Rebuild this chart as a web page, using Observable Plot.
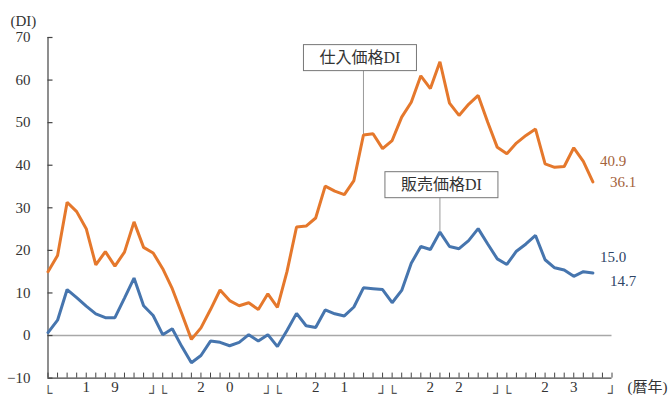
<!DOCTYPE html>
<html><head><meta charset="utf-8">
<script src="https://cdn.jsdelivr.net/npm/d3@7"></script>
<script src="https://cdn.jsdelivr.net/npm/@observablehq/plot@0.6"></script>
<style>body{margin:0;background:#fff} #chart svg{display:block}</style>
</head><body><div id="chart"></div>
<script>
// 仕入価格DI (monthly, 2019-01 .. 2023-10)
const purchase = [15.0,18.8,31.3,29.1,25.1,16.6,19.7,16.3,19.6,26.7,20.7,19.4,
  15.7,11.0,5.1,-0.9,1.8,6.1,10.7,8.2,7.0,7.7,6.1,9.8,
  6.6,15.0,25.5,25.7,27.6,35.1,33.9,33.1,36.4,47.1,47.4,43.9,
  45.8,51.3,54.8,61.0,58.0,64.3,54.6,51.7,54.3,56.4,50.1,44.2,
  42.7,45.2,47.0,48.5,40.3,39.5,39.7,44.1,40.9,36.1];
// 販売価格DI
const sales = [0.7,3.6,10.8,8.9,6.9,5.1,4.2,4.2,8.8,13.5,7.0,4.7,
  0.2,1.6,-2.6,-6.4,-4.7,-1.3,-1.6,-2.4,-1.6,0.2,-1.3,0.2,
  -2.6,1.2,5.2,2.3,1.9,6.0,5.1,4.6,6.7,11.2,11.0,10.8,
  7.7,10.6,17.0,20.9,20.2,24.3,20.9,20.4,22.3,25.1,21.5,18.0,
  16.7,19.8,21.5,23.5,17.8,15.9,15.4,13.9,15.0,14.7];
const seriesNames = ["仕入価格DI", "販売価格DI"];
const yTicks = [-10,0,10,20,30,40,50,60,70];
const monthTicks = d3.range(0, 60);
const yearDigits = [["1","9"],["2","0"],["2","1"],["2","2"],["2","3"]];
const unitLabel = "(DI)";
const xUnitLabel = "(暦年)";
const calloutIndex = [33, 41];

const orange = "#E5782C", blue = "#4675AE";
const serif = "'Liberation Serif','Noto Sans CJK JP',serif";

const pData = purchase.map((v,i)=>({i, v}));
const sData = sales.map((v,i)=>({i, v}));
const digitLabels = yearDigits.flatMap((d,k)=>[{x:12*k+4, t:d[0]},{x:12*k+7, t:d[1]}]);
const bracketL = yearDigits.map((d,k)=>12*k);
const bracketR = yearDigits.map((d,k)=>12*k+11);
const last = purchase.length - 1;

const chart = Plot.plot({
  width: 672, height: 402,
  marginLeft: 47.5, marginRight: 60.5, marginTop: 37, marginBottom: 24.4,
  x: {domain: [0, 59], axis: null},
  y: {domain: [-10, 70], axis: null},
  style: {fontFamily: serif, background: "#fff", color: "#333"},
  marks: [
    Plot.ruleY([0], {stroke: "#a8a8a8", strokeWidth: 1.6}),
    Plot.ruleX([0], {stroke: "#444", strokeWidth: 1.2}),
    Plot.ruleY([-10], {stroke: "#444", strokeWidth: 1.2}),
    Plot.tickY(yTicks, {y: d=>d, insetRight: 559, stroke: "#444", strokeWidth: 1.2}),
    Plot.tickX(monthTicks, {x: d=>d, insetTop: 335.6, stroke: "#444", strokeWidth: 1}),
    Plot.text(yTicks, {y: d=>d, frameAnchor: "left", dx: -17.5, textAnchor: "end",
      text: d=> d<0 ? "−"+(-d) : String(d), fontSize: 15, fill: "#333"}),
    Plot.text([unitLabel], {frameAnchor: "top-left", dx: -37.5, dy: -22, textAnchor: "start", fontSize: 15, fill: "#333"}),
    Plot.text(digitLabels, {x: "x", text: "t", frameAnchor: "bottom", dy: 14, fontSize: 15, fill: "#333"}),
    Plot.text(bracketL, {x: d=>d, text: ()=>"└", frameAnchor: "bottom", dy: 20, fontSize: 14, fontFamily: "DejaVu Sans Mono", fill: "#555"}),
    Plot.text(bracketR, {x: d=>d, text: ()=>"┘", frameAnchor: "bottom", dy: 20, fontSize: 14, fontFamily: "DejaVu Sans Mono", fill: "#555"}),
    Plot.text([xUnitLabel], {frameAnchor: "bottom-right", dx: 15.5, dy: 14, textAnchor: "start", fontSize: 15, fill: "#333"}),
    // leader lines
    Plot.ruleX([pData[calloutIndex[0]]], {x: "i", y1: "v", y2: "v", insetTop: -77, stroke: "#999", strokeWidth: 1}),
    Plot.ruleX([sData[calloutIndex[1]]], {x: "i", y1: "v", y2: "v", insetTop: -47, stroke: "#999", strokeWidth: 1}),
    Plot.line(pData, {x: "i", y: "v", stroke: orange, strokeWidth: 3, strokeLinejoin: "miter"}),
    Plot.line(sData, {x: "i", y: "v", stroke: blue, strokeWidth: 3, strokeLinejoin: "miter"}),
    Plot.text([pData[calloutIndex[0]]], {x: "i", y: "v", text: ()=>seriesNames[0], dx: -3.5, dy: -77, fontSize: 16, fill: "#333"}),
    Plot.text([sData[calloutIndex[1]]], {x: "i", y: "v", text: ()=>seriesNames[1], dx: 1.5, dy: -47, fontSize: 16, fill: "#333"}),
    Plot.text([pData[last-1]], {x: ()=>last, y: "v", text: d=>d.v.toFixed(1), dx: 7, textAnchor: "start", fontSize: 15, fill: "#A4623A"}),
    Plot.text([pData[last]], {x: ()=>last, y: "v", text: d=>d.v.toFixed(1), dx: 17, textAnchor: "start", fontSize: 15, fill: "#A4623A"}),
    Plot.text([sData[last-1]], {x: ()=>last, y: "v", text: d=>d.v.toFixed(1), dx: 7, dy: -14, textAnchor: "start", fontSize: 15, fill: "#2E4466"}),
    Plot.text([sData[last]], {x: ()=>last, y: "v", text: d=>d.v.toFixed(1), dx: 17, dy: 8, textAnchor: "start", fontSize: 15, fill: "#2E4466"})
  ]
});
document.getElementById("chart").append(chart);
d3.select(chart).selectAll("text").filter(function(){ return seriesNames.includes(this.textContent); }).each(function(){
  const b = this.getBBox();
  const w = 113, h = 26;
  d3.select(this.parentNode).insert("rect", () => this)
    .attr("transform", this.getAttribute("transform"))
    .attr("x", b.x + b.width/2 - w/2).attr("y", b.y + b.height/2 - h/2)
    .attr("width", w).attr("height", h)
    .attr("fill", "#fff").attr("stroke", "#777").attr("stroke-width", 1);
});
</script>
</body></html>
